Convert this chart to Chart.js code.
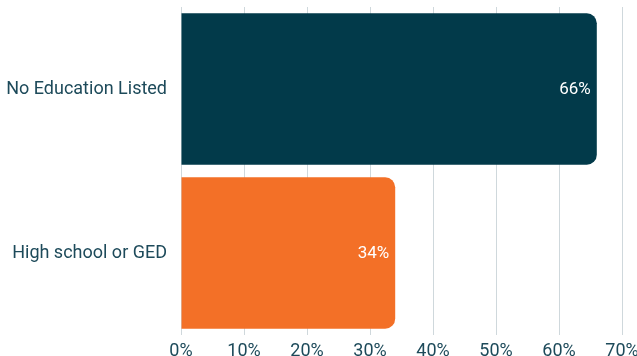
<!DOCTYPE html>
<html>
<head>
<meta charset="utf-8">
<script src="https://cdn.jsdelivr.net/npm/chart.js@4"></script>
<style>
  html, body { margin: 0; padding: 0; overflow: hidden; background: #fff; }
  #wrap { width: 637px; height: 364px; position: relative; }
</style>
</head>
<body>
<div id="wrap"><canvas id="chart"></canvas></div>
<script>
const categories = ['No Education Listed', 'High school or GED'];
const shares = [66, 34];
const barColors = ['#023a4a', '#f37027'];
const xTicks = [0, 10, 20, 30, 40, 50, 60, 70];

// draws "66%" inside the end of each bar
const barLabels = {
  id: 'barLabels',
  afterDatasetsDraw(chart) {
    const ctx = chart.ctx;
    const meta = chart.getDatasetMeta(0);
    ctx.save();
    ctx.font = '17px Roboto';
    ctx.fillStyle = '#ffffff';
    ctx.textAlign = 'right';
    ctx.textBaseline = 'middle';
    meta.data.forEach((bar, i) => {
      ctx.fillText(shares[i] + '%', bar.x - 6, bar.y + 1);
    });
    ctx.restore();
  }
};

Chart.defaults.font.family = 'Roboto';

new Chart(document.getElementById('chart'), {
  type: 'bar',
  data: {
    labels: categories,
    datasets: [{
      data: shares,
      backgroundColor: barColors,
      borderRadius: 10,
      borderSkipped: 'start',
      categoryPercentage: 1,
      barPercentage: 0.923
    }]
  },
  options: {
    indexAxis: 'y',
    responsive: true,
    maintainAspectRatio: false,
    animation: false,
    layout: { padding: { left: 2, right: 15, top: 7, bottom: 0 } },
    plugins: {
      legend: { display: false },
      tooltip: { enabled: false }
    },
    scales: {
      x: {
        min: 0,
        max: 70,
        afterBuildTicks: (scale) => { scale.ticks = xTicks.map(v => ({ value: v })); },
        afterFit: (scale) => {
          scale.height = 29;
          scale.paddingLeft = 0;
          scale.paddingRight = 0;
        },
        ticks: {
          callback: (v) => v + '%',
          color: '#1d4a5a',
          font: { size: 18 },
          padding: 6,
          maxRotation: 0
        },
        grid: { color: '#cfd8dc', lineWidth: 1, drawTicks: false },
        border: { display: false }
      },
      y: {
        afterFit: (scale) => {
          scale.width = 179;
          scale.paddingTop = 0;
          scale.paddingBottom = 0;
        },
        ticks: {
          color: '#1d4a5a',
          font: { size: 18 },
          padding: 14
        },
        grid: { display: false, drawTicks: false, tickLength: 0 },
        border: { display: false }
      }
    }
  },
  plugins: [barLabels]
});
</script>
</body>
</html>
